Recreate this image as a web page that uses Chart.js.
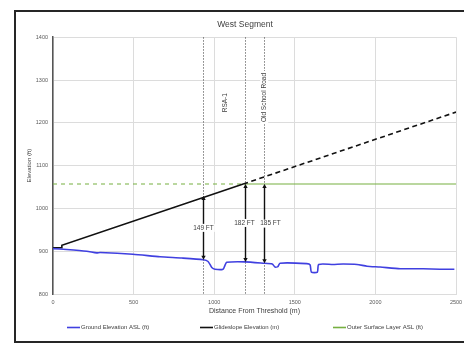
<!DOCTYPE html>
<html>
<head>
<meta charset="utf-8">
<script src="https://cdn.jsdelivr.net/npm/chart.js@4.4.0/dist/chart.umd.min.js"></script>
<style>
  html, body { margin: 0; padding: 0; background: #fff; }
  #wrap { width: 464px; height: 346px; }
</style>
</head>
<body>
<div id="wrap"><canvas id="profile" width="464" height="346"></canvas></div>
<script>
// ground profile along the approach (m from threshold, ft ASL)
var groundX = [0, 85, 209, 271, 292, 496, 664, 800, 932, 962, 985, 1005, 1055, 1068, 1077, 1190, 1303, 1360, 1377, 1395, 1408, 1574, 1595, 1603, 1640, 1648, 1737, 1800, 1886, 1948, 2029, 2153, 2296, 2400, 2490];
var groundY = [906, 904, 900, 896, 897, 893, 887, 884, 880, 876, 862, 858, 858, 868, 874, 875, 872, 870, 863, 864, 872, 871, 868, 851, 851, 869, 869, 870, 869, 865, 863, 859, 859, 858, 858];

// glideslope
var glideX = [0, 50, 55, 1180, 2500];
var glideY = [908, 908, 914, 1057, 1225];

// outer surface layer
var surfaceX = [0, 1180, 2500];
var surfaceY = [1057, 1057, 1057];
var surfaceMeet = 1180;

// clearance markers
var markerX = [930, 1190, 1310];
var markerGround = [880, 875, 872];
var markerGap = [149, 182, 185];
var markerText = ['149 FT', '182 FT', '185 FT'];

// reference lines
var refLineX = [930, 1190, 1310];
var refNames = ['RSA-1', 'Old School Road'];

var xTicks = [0, 500, 1000, 1500, 2000, 2500];
var yTicks = [800, 900, 1000, 1100, 1200, 1300, 1400];

function pts(xs, ys) {
    return xs.map(function (x, i) { return { x: x, y: ys[i] }; });
}

var FONT = '"Liberation Sans", Arial, sans-serif';

// white page, dark frame and the legend row along the bottom
var framePlugin = {
    id: 'frame',
    beforeDraw: function (chart) {
        var c = chart.ctx;
        c.save();
        c.fillStyle = '#fff';
        c.fillRect(0, 0, chart.width, chart.height);
        c.strokeStyle = '#262626';
        c.lineWidth = 2;
        c.strokeRect(15, 11, chart.width + 10, 331);
        c.restore();
    },
    afterDraw: function (chart) {
        var c = chart.ctx;
        var starts = [67, 200, 333];
        var y = 327.5;
        c.save();
        c.font = '6px ' + FONT;
        c.textBaseline = 'middle';
        c.textAlign = 'left';
        chart.data.datasets.forEach(function (ds, i) {
            c.strokeStyle = ds.borderColor;
            c.lineWidth = 1.6;
            c.beginPath();
            c.moveTo(starts[i], y);
            c.lineTo(starts[i] + 13, y);
            c.stroke();
            c.fillStyle = '#404040';
            c.fillText(ds.label, starts[i] + 14, y);
        });
        c.restore();
    }
};

// dotted reference lines with their rotated names, and the clearance arrows
var refPlugin = {
    id: 'refs',
    beforeDatasetsDraw: function (chart) {
        var c = chart.ctx, xs = chart.scales.x, ys = chart.scales.y, a = chart.chartArea;
        c.save();
        c.strokeStyle = '#555';
        c.lineWidth = 0.8;
        c.setLineDash([1.5, 1.5]);
        refLineX.forEach(function (v) {
            var px = Math.round(xs.getPixelForValue(v)) + 0.5;
            c.beginPath();
            c.moveTo(px, a.top);
            c.lineTo(px, a.bottom);
            c.stroke();
        });
        c.setLineDash([]);
        c.font = '6.5px ' + FONT;
        c.textAlign = 'center';
        c.textBaseline = 'middle';
        var spots = [[1070, 1247], [1310, 1259]];
        refNames.forEach(function (name, i) {
            var px = xs.getPixelForValue(spots[i][0]);
            var py = ys.getPixelForValue(spots[i][1]);
            c.save();
            c.translate(px, py);
            c.rotate(-Math.PI / 2);
            var w = c.measureText(name).width;
            c.fillStyle = '#fff';
            c.fillRect(-w / 2 - 2, -4, w + 4, 8);
            c.fillStyle = '#404040';
            c.fillText(name, 0, 0);
            c.restore();
        });
        c.restore();
    },
    afterDatasetsDraw: function (chart) {
        var c = chart.ctx, xs = chart.scales.x, ys = chart.scales.y;
        var nudge = [0, -1, 6];
        c.save();
        c.strokeStyle = '#111';
        c.fillStyle = '#111';
        c.lineWidth = 1.4;
        c.font = '6.5px ' + FONT;
        c.textAlign = 'center';
        c.textBaseline = 'middle';
        markerX.forEach(function (v, i) {
            var px = Math.round(xs.getPixelForValue(v)) + 0.5;
            var yb = ys.getPixelForValue(markerGround[i]);
            var yt = ys.getPixelForValue(markerGround[i] + markerGap[i]);
            c.beginPath();
            c.moveTo(px, yt + 3);
            c.lineTo(px, yb - 3);
            c.stroke();
            // heads
            c.beginPath();
            c.moveTo(px, yt); c.lineTo(px - 2.2, yt + 4); c.lineTo(px + 2.2, yt + 4); c.closePath();
            c.fill();
            c.beginPath();
            c.moveTo(px, yb); c.lineTo(px - 2.2, yb - 4); c.lineTo(px + 2.2, yb - 4); c.closePath();
            c.fill();
            var my = (yt + yb) / 2;
            var tx = px + nudge[i];
            var w = c.measureText(markerText[i]).width;
            c.fillStyle = '#fff';
            c.fillRect(tx - w / 2 - 1, my - 4, w + 2, 8);
            c.fillStyle = '#404040';
            c.fillText(markerText[i], tx, my);
            c.fillStyle = '#111';
        });
        c.restore();
    }
};

new Chart(document.getElementById('profile').getContext('2d'), {
    type: 'line',
    data: {
        datasets: [{
            label: 'Ground Elevation ASL (ft)',
            data: pts(groundX, groundY),
            borderColor: '#4040e0',
            backgroundColor: '#4040e0',
            borderWidth: 1.6,
            pointRadius: 0,
            tension: 0.2
        }, {
            label: 'Glideslope Elevation (m)',
            data: pts(glideX, glideY),
            borderColor: '#111',
            backgroundColor: '#111',
            borderWidth: 1.6,
            pointRadius: 0,
            segment: {
                borderDash: function (ctx) { return ctx.p0.parsed.x >= surfaceMeet ? [5, 3.5] : undefined; }
            }
        }, {
            label: 'Outer Surface Layer ASL (ft)',
            data: pts(surfaceX, surfaceY),
            borderColor: '#76b041',
            backgroundColor: '#76b041',
            borderWidth: 1.1,
            pointRadius: 0,
            segment: {
                borderDash: function (ctx) { return ctx.p1.parsed.x <= surfaceMeet ? [4, 4] : undefined; }
            }
        }]
    },
    options: {
        responsive: false,
        animation: false,
        layout: { padding: { left: 26, right: 0, top: 12, bottom: 31 } },
        plugins: {
            title: {
                display: true,
                text: 'West Segment',
                color: '#404040',
                font: { family: FONT, size: 8.5, weight: 'normal' },
                padding: { top: 8, bottom: 7 }
            },
            legend: { display: false },
            tooltip: { enabled: false }
        },
        scales: {
            x: {
                type: 'linear',
                min: 0,
                max: 2500,
                afterBuildTicks: function (s) { s.ticks = xTicks.map(function (v) { return { value: v }; }); },
                afterFit: function (s) { s.paddingLeft = 0; s.paddingRight = 8; },
                grid: { color: '#dcdcdc', lineWidth: 1, drawTicks: false },
                border: { color: '#dcdcdc' },
                ticks: {
                    color: '#595959', font: { family: FONT, size: 5.5 }, padding: 5, maxRotation: 0,
                    callback: function (v) { return String(v); }
                },
                title: {
                    display: true,
                    text: 'Distance From Threshold (m)',
                    color: '#404040',
                    font: { family: FONT, size: 7 },
                    padding: { top: -4, bottom: 0 }
                }
            },
            y: {
                min: 800,
                max: 1400,
                afterBuildTicks: function (s) { s.ticks = yTicks.map(function (v) { return { value: v }; }); },
                afterFit: function (s) { s.width = 27; },
                grid: { color: '#dcdcdc', lineWidth: 1, drawTicks: false },
                border: { color: '#555', width: 1.5 },
                ticks: {
                    color: '#595959', font: { family: FONT, size: 5.5 }, padding: 5,
                    callback: function (v) { return String(v); }
                },
                title: {
                    display: true,
                    text: 'Elevation (ft)',
                    color: '#404040',
                    font: { family: FONT, size: 6 },
                    padding: { top: 0, bottom: 0 }
                }
            }
        }
    },
    plugins: [framePlugin, refPlugin]
});
</script>
</body>
</html>
